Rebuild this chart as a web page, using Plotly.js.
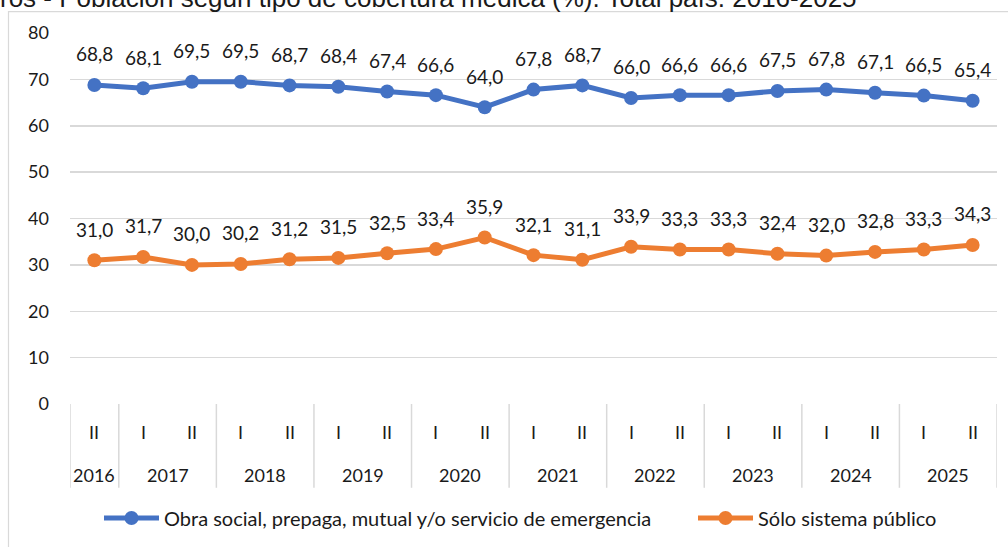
<!DOCTYPE html>
<html>
<head>
<meta charset="utf-8">
<script src="https://cdn.plot.ly/plotly-3.0.1.min.js"></script>
<style>
html,body{margin:0;padding:0;background:#fff;}
#chart{width:1008px;height:547px;}
</style>
</head>
<body>
<div id="chart"></div>
<script>
const years = ["2016","2017","2017","2018","2018","2019","2019","2020","2020","2021","2021","2022","2022","2023","2023","2024","2024","2025","2025"];
const semesters = ["II","I","II","I","II","I","II","I","II","I","II","I","II","I","II","I","II","I","II"];
const obraSocial = [68.8,68.1,69.5,69.5,68.7,68.4,67.4,66.6,64.0,67.8,68.7,66.0,66.6,66.6,67.5,67.8,67.1,66.5,65.4];
const soloPublico = [31.0,31.7,30.0,30.2,31.2,31.5,32.5,33.4,35.9,32.1,31.1,33.9,33.3,33.3,32.4,32.0,32.8,33.3,34.3];
const seriesNames = ["Obra social, prepaga, mutual y/o servicio de emergencia","Sólo sistema público"];
const titleText = "ros - Población según tipo de cobertura médica (%). Total país. 2016-2025";

const W = 1008, H = 547;
const mL = 70, mR = 11, mT = 33, mB = 142;
const pw = W - mL - mR, ph = H - mT - mB;
const px2x = p => (p - mL) / pw;
const py2y = p => (H - mB - p) / ph;

const FONT = "Lato, 'Open Sans', sans-serif";
const txtColor = "#1a1a1a";
const gridColor = "#D9D9D9";
const colors = ["#4472C4", "#ED7D31"];

const xIdx = semesters.map((_, i) => i);
const fmt = v => v.toFixed(1).replace(".", ",");

function mk(y, name, color, legendId) {
  return {
    type: "scatter",
    mode: "lines+markers",
    x: xIdx,
    y: y,
    name: name,
    legend: legendId,
    line: {color: color, width: 5},
    marker: {color: color, size: 14},
    cliponaxis: false,
    hoverinfo: "skip"
  };
}

const data = [
  mk(obraSocial, seriesNames[0], colors[0], "legend"),
  mk(soloPublico, seriesNames[1], colors[1], "legend2")
];

const annotations = [];
// data labels
[obraSocial, soloPublico].forEach(series => {
  series.forEach((v, i) => {
    annotations.push({
      x: i, y: v, xref: "x", yref: "y", text: fmt(v), showarrow: false,
      xanchor: "center", yanchor: "middle", yshift: 31,
      font: {family: FONT, size: 19, color: txtColor}
    });
  });
});
// semester labels
semesters.forEach((s, i) => {
  annotations.push({
    x: i, y: py2y(433), xref: "x", yref: "paper", text: s, showarrow: false,
    xanchor: "center", yanchor: "middle",
    font: {family: FONT, size: 18, color: txtColor}
  });
});
// year groups
const groups = [];
years.forEach((y, i) => {
  if (!groups.length || groups[groups.length - 1].label !== y) groups.push({label: y, start: i, end: i});
  else groups[groups.length - 1].end = i;
});
const shapes = [];
groups.forEach(g => {
  annotations.push({
    x: (g.start + g.end) / 2, y: py2y(476), xref: "x", yref: "paper", text: g.label, showarrow: false,
    xanchor: "center", yanchor: "middle",
    font: {family: FONT, size: 18, color: txtColor}
  });
  shapes.push({type: "line", xref: "x", yref: "paper", x0: g.start - 0.5, x1: g.start - 0.5,
    y0: py2y(405), y1: py2y(489), line: {color: gridColor, width: 1.5}});
});
shapes.push({type: "line", xref: "x", yref: "paper",
  x0: groups[groups.length - 1].end + 0.5, x1: groups[groups.length - 1].end + 0.5,
  y0: py2y(405), y1: py2y(489), line: {color: gridColor, width: 1.5}});
// outer frame
shapes.push({
  type: "rect", xref: "paper", yref: "paper",
  x0: px2x(8.5), x1: px2x(1012), y0: py2y(11.5), y1: py2y(560),
  line: {color: gridColor, width: 1.2}, fillcolor: "rgba(0,0,0,0)", layer: "below"
});
// cut-off title
annotations.push({
  xref: "paper", yref: "paper", x: px2x(-2), y: py2y(15), xanchor: "left", yanchor: "bottom",
  text: titleText, showarrow: false,
  font: {family: "'Liberation Sans', Arial, sans-serif", size: 26, color: "#1a1a1a"}
});

const legendBase = {orientation: "h", xanchor: "left", yanchor: "middle", y: py2y(518),
  font: {family: FONT, size: 20, color: txtColor}, itemwidth: 55, bgcolor: "rgba(0,0,0,0)", borderwidth: 0};

const layout = {
  width: W, height: H,
  margin: {l: mL, r: mR, t: mT, b: mB},
  paper_bgcolor: "#fff", plot_bgcolor: "#fff",
  font: {family: FONT, size: 18, color: txtColor},
  showlegend: true,
  legend: Object.assign({}, legendBase, {x: px2x(99)}),
  legend2: Object.assign({}, legendBase, {x: px2x(693)}),
  xaxis: {
    range: [-0.5, xIdx.length - 0.5], showticklabels: false,
    showline: false, ticks: "", showgrid: false, zeroline: false, fixedrange: true
  },
  yaxis: {
    range: [0, 80], dtick: 10, tick0: 0,
    showgrid: true, gridcolor: gridColor, gridwidth: 1.5,
    zeroline: false, showline: false, ticks: "",
    tickfont: {family: FONT, size: 18, color: txtColor},
    ticklabelstandoff: 20, fixedrange: true
  },
  shapes: shapes,
  annotations: annotations
};

Plotly.newPlot("chart", data, layout, {displayModeBar: false, staticPlot: true});
</script>
</body>
</html>
